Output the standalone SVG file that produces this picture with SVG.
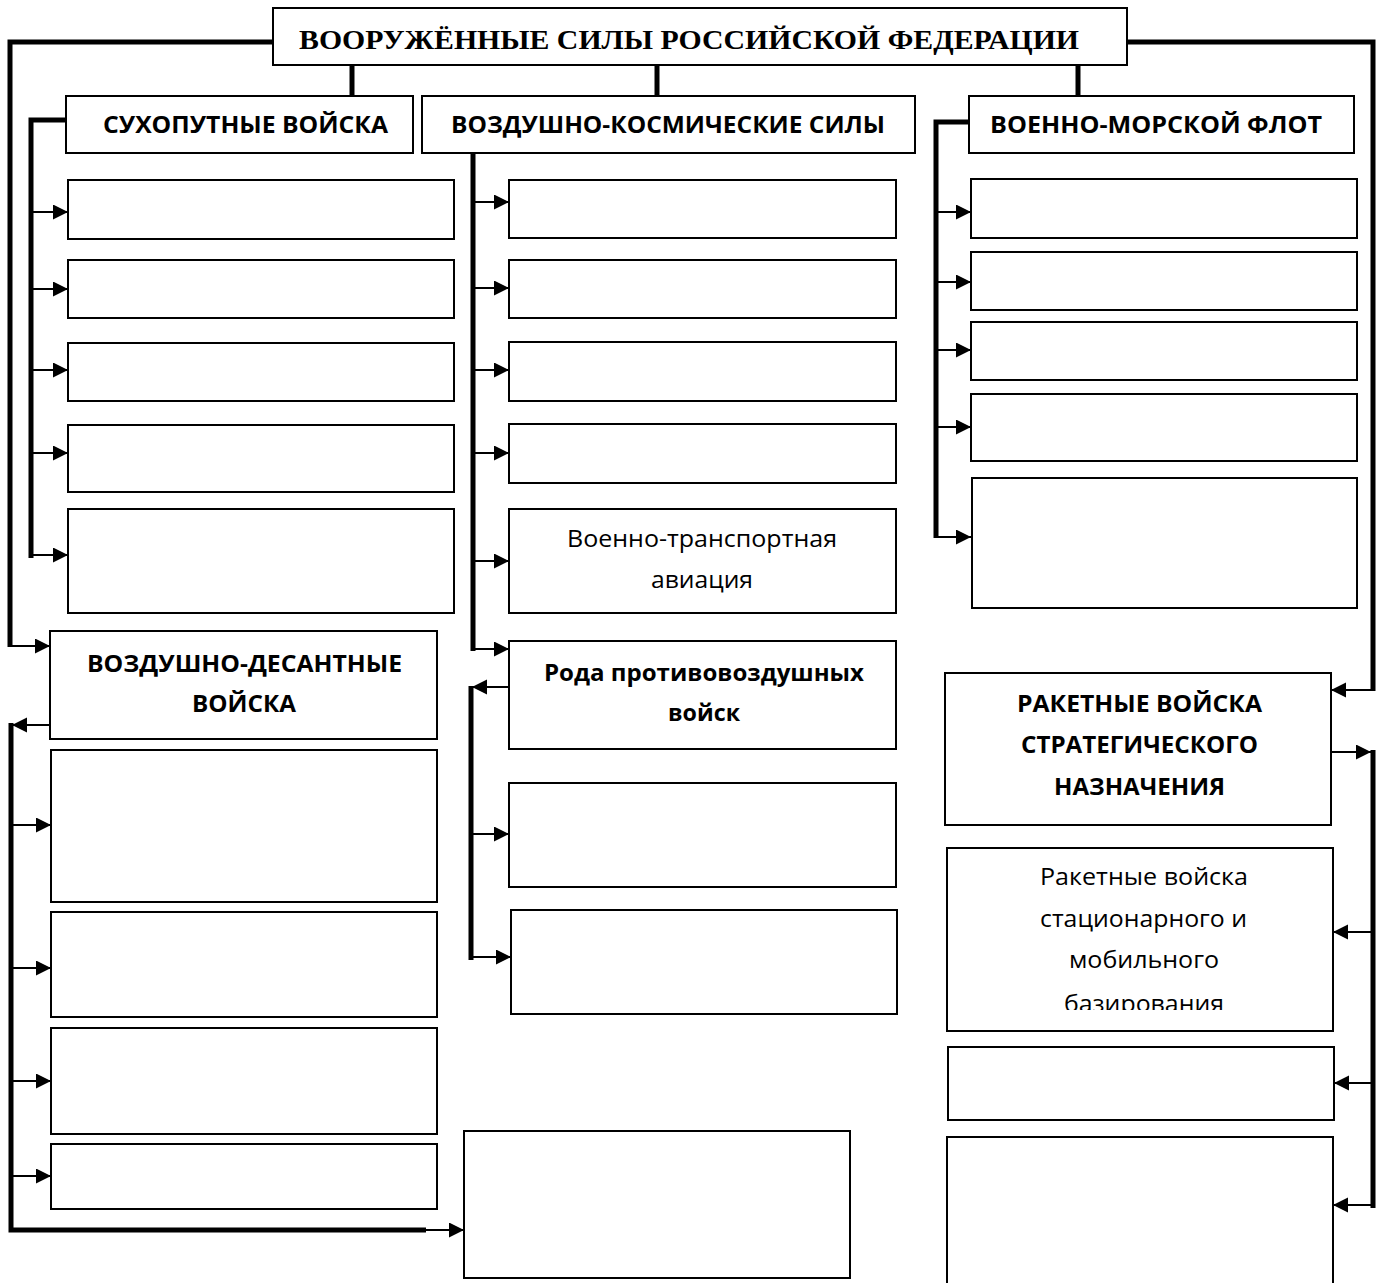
<svg xmlns="http://www.w3.org/2000/svg" width="1381" height="1283" viewBox="0 0 1381 1283">
<defs>
<style>
.box{fill:#fff;stroke:#000;stroke-width:2}
.bus{fill:none;stroke:#000;stroke-width:5}
.arr{fill:none;stroke:#000;stroke-width:2;marker-end:url(#ah)}
.ttl{font-family:"Liberation Serif","Times New Roman",serif;font-weight:bold;font-size:28px;fill:#000}
.hb{font-family:"Open Sans","Noto Sans",sans-serif;font-weight:bold;font-size:24px;fill:#000}
.hr{font-family:"Open Sans","Noto Sans",sans-serif;font-weight:normal;font-size:24px;fill:#000}
</style>
<marker id="ah" markerUnits="userSpaceOnUse" markerWidth="16" markerHeight="16" refX="15" refY="7.5" orient="auto">
<path d="M0,0 L15,7.5 L0,15 z" fill="#000"/>
</marker>
<clipPath id="clipRV"><rect x="947" y="848" width="386" height="162"/></clipPath>
</defs>
<rect x="0" y="0" width="1381" height="1283" fill="#fff"/>

<g id="connectors">
<path class="bus" d="M272,42 H10 V647"/>
<path class="arr" d="M10,646 H50"/>
<path class="bus" d="M1127,42 H1373 V691"/>
<path class="arr" d="M1373,690 H1331"/>
<path class="bus" d="M352,65 V96"/>
<path class="bus" d="M657,65 V96"/>
<path class="bus" d="M1078,65 V96"/>

<path class="bus" d="M66,120 H31 V558"/>
<path class="arr" d="M31,212 H68"/>
<path class="arr" d="M31,289 H68"/>
<path class="arr" d="M31,370 H68"/>
<path class="arr" d="M31,453 H68"/>
<path class="arr" d="M31,555 H68"/>

<path class="bus" d="M473,153 V651"/>
<path class="arr" d="M473,202 H509"/>
<path class="arr" d="M473,288 H509"/>
<path class="arr" d="M473,370 H509"/>
<path class="arr" d="M473,453 H509"/>
<path class="arr" d="M473,561 H509"/>
<path class="arr" d="M473,649 H509"/>

<path class="arr" d="M509,687 H472"/>
<path class="bus" d="M471,686 V960"/>
<path class="arr" d="M471,834 H509"/>
<path class="arr" d="M471,957 H511"/>

<path class="bus" d="M969,122 H936 V538"/>
<path class="arr" d="M936,212 H971"/>
<path class="arr" d="M936,282 H971"/>
<path class="arr" d="M936,350 H971"/>
<path class="arr" d="M936,427 H971"/>
<path class="arr" d="M936,537 H971"/>

<path class="arr" d="M50,725 H12"/>
<path class="bus" d="M11,723 V1230 H426"/>
<path class="arr" d="M426,1230 H464"/>
<path class="arr" d="M11,825 H51"/>
<path class="arr" d="M11,968 H51"/>
<path class="arr" d="M11,1081 H51"/>
<path class="arr" d="M11,1176 H51"/>

<path class="arr" d="M1331,752 H1371"/>
<path class="bus" d="M1373,750 V1208"/>
<path class="arr" d="M1373,932 H1333"/>
<path class="arr" d="M1373,1083 H1334"/>
<path class="arr" d="M1373,1205 H1333"/>
</g>

<g id="n-root">
<rect class="box" x="273" y="8" width="854" height="57"/>
<text class="ttl" x="299" y="49" textLength="780" lengthAdjust="spacingAndGlyphs">ВООРУЖЁННЫЕ СИЛЫ РОССИЙСКОЙ ФЕДЕРАЦИИ</text>
</g>

<g id="n-sv">
<rect class="box" x="66" y="96" width="347" height="57"/>
<text class="hb" x="103" y="133" textLength="285" lengthAdjust="spacingAndGlyphs">СУХОПУТНЫЕ ВОЙСКА</text>
</g>
<g id="n-vks">
<rect class="box" x="422" y="96" width="493" height="57"/>
<text class="hb" x="451" y="133" textLength="434" lengthAdjust="spacingAndGlyphs">ВОЗДУШНО-КОСМИЧЕСКИЕ СИЛЫ</text>
</g>
<g id="n-vmf">
<rect class="box" x="969" y="96" width="385" height="57"/>
<text class="hb" x="990" y="133" textLength="332" lengthAdjust="spacingAndGlyphs">ВОЕННО-МОРСКОЙ ФЛОТ</text>
</g>

<g id="n-sv1"><rect class="box" x="68" y="180" width="386" height="59"/></g>
<g id="n-sv2"><rect class="box" x="68" y="260" width="386" height="58"/></g>
<g id="n-sv3"><rect class="box" x="68" y="343" width="386" height="58"/></g>
<g id="n-sv4"><rect class="box" x="68" y="425" width="386" height="67"/></g>
<g id="n-sv5"><rect class="box" x="68" y="509" width="386" height="104"/></g>

<g id="n-vks1"><rect class="box" x="509" y="180" width="387" height="58"/></g>
<g id="n-vks2"><rect class="box" x="509" y="260" width="387" height="58"/></g>
<g id="n-vks3"><rect class="box" x="509" y="342" width="387" height="59"/></g>
<g id="n-vks4"><rect class="box" x="509" y="424" width="387" height="59"/></g>
<g id="n-vks5">
<rect class="box" x="509" y="509" width="387" height="104"/>
<text class="hr" x="567" y="547" textLength="270" lengthAdjust="spacingAndGlyphs">Военно-транспортная</text>
<text class="hr" x="651" y="588" textLength="102" lengthAdjust="spacingAndGlyphs">авиация</text>
</g>
<g id="n-vks6">
<rect class="box" x="509" y="641" width="387" height="108"/>
<text class="hb" x="544" y="681" textLength="320" lengthAdjust="spacingAndGlyphs">Рода противовоздушных</text>
<text class="hb" x="668" y="721" textLength="72" lengthAdjust="spacingAndGlyphs">войск</text>
</g>
<g id="n-vks7"><rect class="box" x="509" y="783" width="387" height="104"/></g>
<g id="n-vks8"><rect class="box" x="511" y="910" width="386" height="104"/></g>

<g id="n-vmf1"><rect class="box" x="971" y="179" width="386" height="59"/></g>
<g id="n-vmf2"><rect class="box" x="971" y="252" width="386" height="58"/></g>
<g id="n-vmf3"><rect class="box" x="971" y="322" width="386" height="58"/></g>
<g id="n-vmf4"><rect class="box" x="971" y="394" width="386" height="67"/></g>
<g id="n-vmf5"><rect class="box" x="972" y="478" width="385" height="130"/></g>

<g id="n-vdv">
<rect class="box" x="50" y="631" width="387" height="108"/>
<text class="hb" x="87" y="672" textLength="315" lengthAdjust="spacingAndGlyphs">ВОЗДУШНО-ДЕСАНТНЫЕ</text>
<text class="hb" x="192" y="712" textLength="104" lengthAdjust="spacingAndGlyphs">ВОЙСКА</text>
</g>
<g id="n-vdv1"><rect class="box" x="51" y="750" width="386" height="152"/></g>
<g id="n-vdv2"><rect class="box" x="51" y="912" width="386" height="105"/></g>
<g id="n-vdv3"><rect class="box" x="51" y="1028" width="386" height="106"/></g>
<g id="n-vdv4"><rect class="box" x="51" y="1144" width="386" height="65"/></g>

<g id="n-bottom"><rect class="box" x="464" y="1131" width="386" height="147"/></g>

<g id="n-rvsn">
<rect class="box" x="945" y="673" width="386" height="152"/>
<text class="hb" x="1017" y="712" textLength="245" lengthAdjust="spacingAndGlyphs">РАКЕТНЫЕ ВОЙСКА</text>
<text class="hb" x="1021" y="753" textLength="237" lengthAdjust="spacingAndGlyphs">СТРАТЕГИЧЕСКОГО</text>
<text class="hb" x="1054" y="795" textLength="171" lengthAdjust="spacingAndGlyphs">НАЗНАЧЕНИЯ</text>
</g>
<g id="n-rvsn1">
<rect class="box" x="947" y="848" width="386" height="183"/>
<g clip-path="url(#clipRV)">
<text class="hr" x="1040" y="885" textLength="208" lengthAdjust="spacingAndGlyphs">Ракетные войска</text>
<text class="hr" x="1040" y="927" textLength="207" lengthAdjust="spacingAndGlyphs">стационарного и</text>
<text class="hr" x="1069" y="968" textLength="150" lengthAdjust="spacingAndGlyphs">мобильного</text>
<text class="hr" x="1064" y="1012" textLength="160" lengthAdjust="spacingAndGlyphs">базирования</text>
</g>
</g>
<g id="n-rvsn2"><rect class="box" x="948" y="1047" width="386" height="73"/></g>
<g id="n-rvsn3"><rect class="box" x="947" y="1137" width="386" height="160"/></g>
</svg>
